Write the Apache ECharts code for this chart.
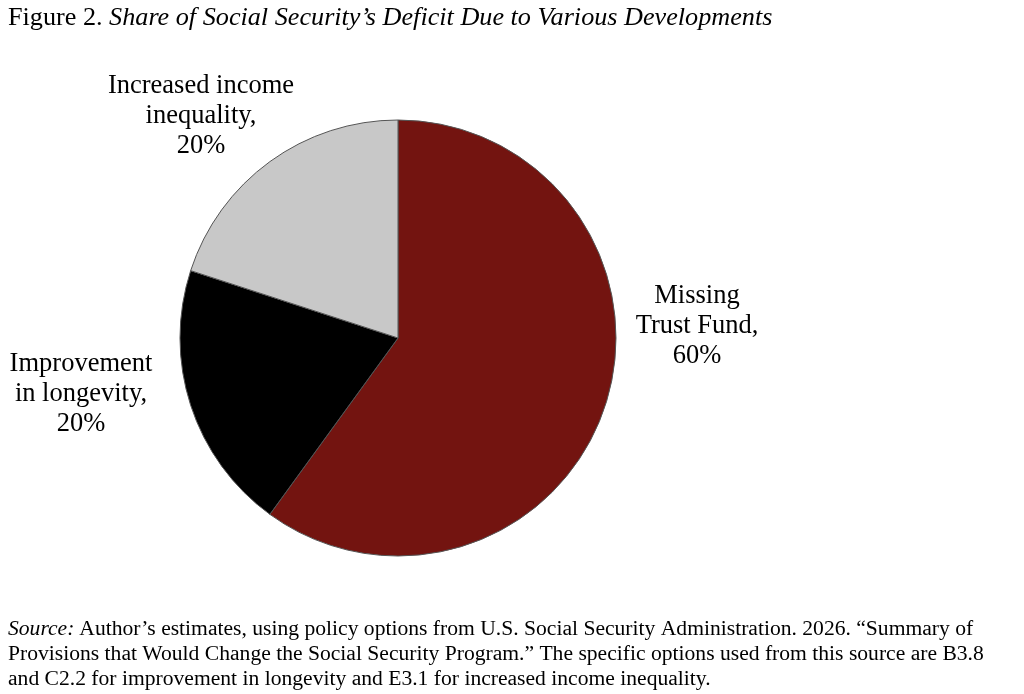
<!DOCTYPE html>
<html>
<head>
<meta charset="utf-8">
<script src="https://cdn.jsdelivr.net/npm/echarts@6/dist/echarts.min.js"></script>
<style>
  html, body { margin: 0; padding: 0; background: #fff; }
  #chart { width: 1024px; height: 694px; }
</style>
</head>
<body>
<div id="chart"></div>
<script>
const categories = ["Missing\nTrust Fund", "Improvement\nin longevity", "Increased income\ninequality"];
const shares = [60, 20, 20];
const sliceColors = ["#731410", "#000000", "#c8c8c8"];
// where each label sits (centre of text block)
const labelPos = [[697, 326], [81, 394], [201, 116]];

const font = "'Liberation Serif', 'Times New Roman', serif";
const chart = echarts.init(document.getElementById("chart"));

chart.setOption({
  backgroundColor: "#fff",
  animation: false,
  title: [
    {
      left: 8,
      top: 3,
      padding: 0,
      text: "{a|Figure 2. }{b|Share of Social Security\u2019s Deficit Due to Various Developments}",
      textStyle: {
        fontWeight: "normal",
        rich: {
          a: { fontFamily: font, fontSize: 26.2, fontWeight: "normal", color: "#000", lineHeight: 30 },
          b: { fontFamily: font, fontSize: 26.2, fontWeight: "normal", fontStyle: "italic", color: "#000", lineHeight: 30 },
        },
      },
    },
    {
      left: 8,
      top: 617,
      padding: 0,
      text:
        "{i|Source:} {n|Author\u2019s estimates, using policy options from U.S. Social Security Administration. 2026. \u201cSummary of}\n" +
        "{n|Provisions that Would Change the Social Security Program.\u201d The specific options used from this source are B3.8}\n" +
        "{n|and C2.2 for improvement in longevity and E3.1 for increased income inequality.}",
      textStyle: {
        fontWeight: "normal",
        rich: {
          i: { fontFamily: font, fontSize: 21.6, fontWeight: "normal", fontStyle: "italic", color: "#000", lineHeight: 25 },
          n: { fontFamily: font, fontSize: 21.6, fontWeight: "normal", color: "#000", lineHeight: 25 },
        },
      },
    },
  ],
  series: [
    {
      type: "pie",
      center: [398, 338],
      radius: [0, 218],
      startAngle: 90,
      clockwise: true,
      silent: true,
      data: categories.map((name, i) => ({
        name: name,
        value: shares[i],
        itemStyle: { color: sliceColors[i] },
      })),
      itemStyle: { borderColor: "#555", borderWidth: 1 },
      label: {
        show: true,
        formatter: (p) => p.name + ",\n" + p.value + "%",
        fontFamily: font,
        fontSize: 26.5,
        lineHeight: 30,
        color: "#000",
        align: "center",
        overflow: "none",
        width: 260,
      },
      labelLine: { show: false },
      labelLayout: (params) => ({
        x: labelPos[params.dataIndex][0],
        y: labelPos[params.dataIndex][1],
        align: "center",
        verticalAlign: "middle",
      }),
    },
  ],
});
</script>
</body>
</html>
